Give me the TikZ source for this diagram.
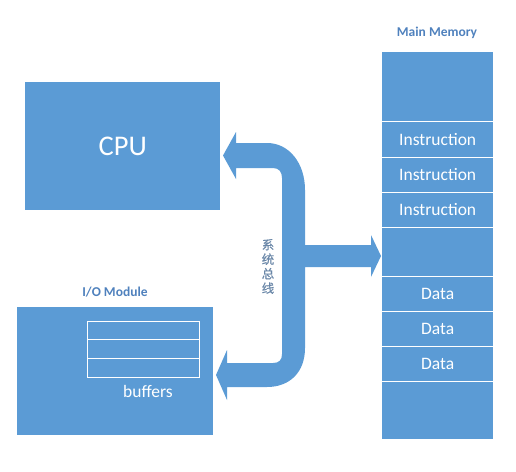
\documentclass[tikz,border=0pt]{standalone}
\usepackage{fontspec}
\setmainfont{Carlito}
\newfontface\cjk[FakeBold=0.6]{Noto Sans CJK SC}
\definecolor{boxblue}{HTML}{5B9BD5}
\definecolor{titleblue}{HTML}{4F81BD}
\definecolor{cjkgray}{HTML}{6A87A8}
\begin{document}
\begin{tikzpicture}[x=1pt,y=-1pt,
  blockbox/.style={fill=boxblue, inner sep=0pt, anchor=north west, text=white},
  cellbox/.style={fill=boxblue, inner sep=0pt, anchor=north west, minimum width=111pt, text=white,
     font=\fontsize{17.5}{20}\selectfont},
  bufbox/.style={draw=white, line width=1.2pt, inner sep=0pt, anchor=north west, minimum width=112pt},
  sepline/.style={draw=white, line width=1.3pt},
  title/.style={text=titleblue, font=\bfseries\fontsize{13.5}{16}\selectfont},
  bus/.style={fill=boxblue}
]
\useasboundingbox (0,0) rectangle (516,471);

% CPU
\node[blockbox, minimum width=195pt, minimum height=128pt, font=\fontsize{28.5}{32}\selectfont] (cpu) at (25,82) {CPU};

% I/O module
\node[blockbox, minimum width=196pt, minimum height=128pt] (io) at (17,307) {};
\node[title] (iotitle) at (115,292) {I/O Module};
\node[bufbox, minimum height=18pt] (buf1) at (87,321) {};
\node[bufbox, minimum height=19pt] (buf2) at (87,339) {};
\node[bufbox, minimum height=19pt] (buf3) at (87,358) {};
\node[text=white, font=\fontsize{17.5}{20}\selectfont] (buftext) at (148,391) {buffers};

% Main memory
\node[title] (memtitle) at (437,33) {Main Memory};
\node[cellbox, minimum height=69pt] (m1) at (382,52) {};
\node[cellbox, minimum height=36pt] (m2) at (382,121) {Instruction};
\node[cellbox, minimum height=35pt] (m3) at (382,157) {Instruction};
\node[cellbox, minimum height=35pt] (m4) at (382,192) {Instruction};
\node[cellbox, minimum height=49pt] (m5) at (382,227) {};
\node[cellbox, minimum height=35pt] (m6) at (382,276) {Data};
\node[cellbox, minimum height=35pt] (m7) at (382,311) {Data};
\node[cellbox, minimum height=35pt] (m8) at (382,346) {Data};
\node[cellbox, minimum height=58pt] (m9) at (382,381) {};
\foreach \c in {m1,m2,m3,m4,m5,m6,m7,m8}{
  \draw[sepline] (\c.south west) -- (\c.south east);
}

% System bus
\coordinate (topTip) at (223,155.5);
\coordinate (botTip) at (216,375);
\coordinate (rightTip) at (381,256);
\path[bus]
  (topTip) -- (236,132) -- (236,143) -- (267,143)
  .. controls (289,143) and (305,163) .. (305,190)
  -- (305,245) -- (371,245) -- (371,235) -- (rightTip) -- (371,277) -- (371,267)
  -- (305,267) -- (305,348)
  .. controls (305,372) and (290,387) .. (267,387)
  -- (227,387) -- (227,400) -- (botTip) -- (227,350) -- (227,363)
  -- (273,363) .. controls (279,363) and (282,360) .. (282,354)
  -- (282,178) .. controls (282,172) and (279,168) .. (273,168)
  -- (236,168) -- (236,179) -- cycle;

\node[text=cjkgray, align=center, inner sep=0pt, font=\cjk\fontsize{12.5}{14.5}\selectfont] (buslabel) at (268,266.5) {系\\统\\总\\线};
\end{tikzpicture}
\end{document}
